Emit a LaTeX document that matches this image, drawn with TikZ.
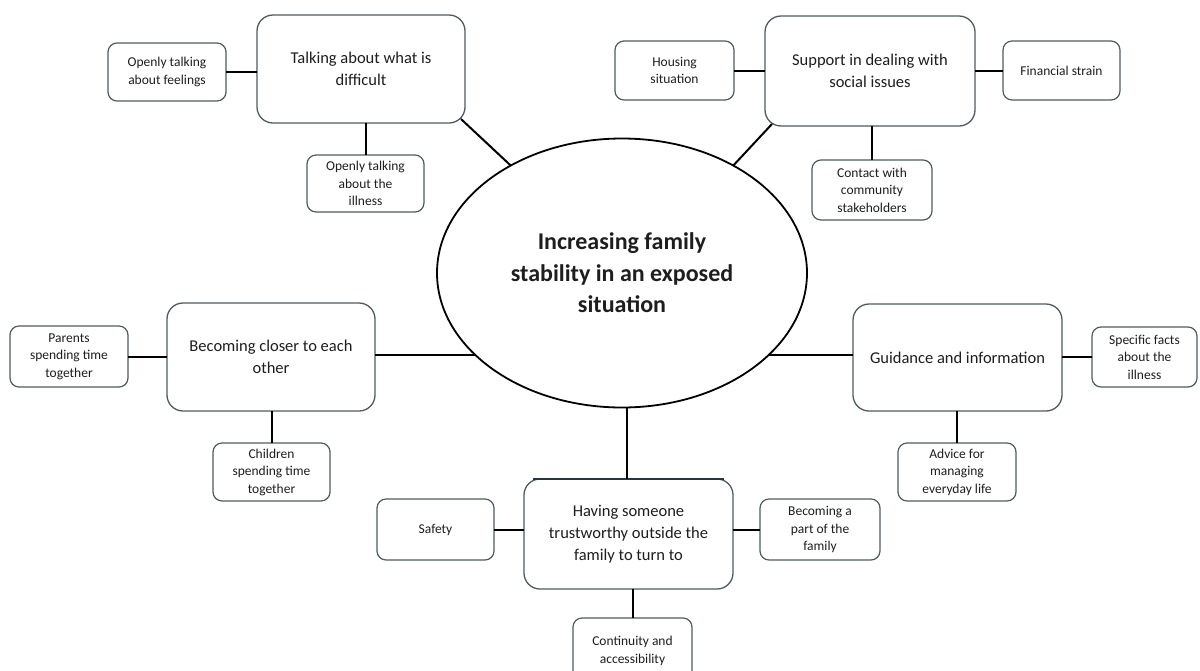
\documentclass[tikz,border=0pt]{standalone}
\usepackage{fontspec}
\setmainfont{Carlito}
\usetikzlibrary{shapes.geometric,calc}
\definecolor{boxline}{HTML}{4F5B60}
\definecolor{topline}{HTML}{203848}
\definecolor{txt}{HTML}{1E1E1E}
\begin{document}
\begin{tikzpicture}[x=1pt,y=-1pt,
  big/.style={draw=boxline,line width=1.3pt,rounded corners=16pt,align=center,text=txt,
    font=\fontsize{16.5}{22}\selectfont,inner sep=0pt,outer sep=0pt},
  small/.style={draw=boxline,line width=1.2pt,rounded corners=9pt,align=center,text=txt,
    font=\fontsize{13.5}{17.5}\selectfont,inner sep=0pt,outer sep=0pt},
  link/.style={line width=2pt,draw=black}]
\useasboundingbox (0,0) rectangle (1200,670);
\clip (0,0) rectangle (1200,670);
\fill[white] (0,0) rectangle (1200,670);

% centre
\node[ellipse,draw=black,line width=1.8pt,minimum width=370,minimum height=269,inner sep=0pt,
  outer sep=0pt,align=center,text=txt,font=\fontsize{24}{31.5}\selectfont\bfseries]
  (ctr) at (622,273) {Increasing family\\stability in an exposed\\situation};

% main themes
\node[big,minimum width=208,minimum height=108] (tad) at (361,69) {Talking about what is\\difficult};
\node[big,minimum width=210,minimum height=110] (sup) at (870,71) {Support in dealing with\\social issues};
\node[big,minimum width=208,minimum height=108] (bec) at (271,357) {Becoming closer to each\\other};
\node[big,minimum width=209,minimum height=107] (gui) at (957.5,357.5) {Guidance and information};
\node[big,minimum width=209,minimum height=110] (hav) at (628.5,534) {Having someone\\trustworthy outside the\\family to turn to};

% sub themes
\node[small,minimum width=118,minimum height=58] (feel) at (167,72) {Openly talking\\about feelings};
\node[small,minimum width=117,minimum height=57] (ill) at (365.5,183.5) {Openly talking\\about the\\illness};
\node[small,minimum width=119,minimum height=59] (hous) at (674.5,70.5) {Housing\\situation};
\node[small,minimum width=117,minimum height=59] (fin) at (1061.5,70.5) {Financial strain};
\node[small,minimum width=120,minimum height=60] (cont) at (872,190) {Contact with\\community\\stakeholders};
\node[small,minimum width=118,minimum height=61] (par) at (69,356.5) {Parents\\spending time\\together};
\node[small,minimum width=117,minimum height=58] (chi) at (271.5,472) {Children\\spending time\\together};
\node[small,minimum width=105,minimum height=60] (spec) at (1144.5,357) {Specific facts\\about the\\illness};
\node[small,minimum width=118,minimum height=58] (adv) at (957,472) {Advice for\\managing\\everyday life};
\node[small,minimum width=117,minimum height=61] (saf) at (435.5,529.5) {Safety};
\node[small,minimum width=120,minimum height=61] (bpf) at (820,529.5) {Becoming a\\part of the\\family};
\node[small,minimum width=119,minimum height=66] (con) at (632.5,651) {Continuity and\\accessibility};

% dark top edge of the lower theme box
\draw[topline,line width=1.6pt] ($(hav.north west)+(9,0)$) -- ($(hav.north east)+(-9,0)$);

% connectors from the centre
\draw[link] (ctr.136) -- ($(tad.south east)+(-4,-4)$);
\draw[link] (ctr.44) -- ($(sup.south west)+(7,-2)$);
\draw[link] (ctr.209.5) -- (ctr.209.5 -| bec.east);
\draw[link] (ctr.331) -- (ctr.331 -| gui.west);
\draw[link] (ctr.272.5) -- (ctr.272.5 |- hav.north);

% connectors to sub themes
\draw[link] (feel.east) -- (feel.east -| tad.west);
\draw[link] (ill.north) -- (ill.north |- tad.south);
\draw[link] (hous.east) -- (hous.east -| sup.west);
\draw[link] (fin.west) -- (fin.west -| sup.east);
\draw[link] (cont.north) -- (cont.north |- sup.south);
\draw[link] (par.east) -- (par.east -| bec.west);
\draw[link] (chi.north) -- (chi.north |- bec.south);
\draw[link] (spec.west) -- (spec.west -| gui.east);
\draw[link] (adv.north) -- (adv.north |- gui.south);
\draw[link] (saf.east) -- (saf.east -| hav.west);
\draw[link] (bpf.west) -- (bpf.west -| hav.east);
\draw[link] (con.north) -- (con.north |- hav.south);
\end{tikzpicture}
\end{document}
